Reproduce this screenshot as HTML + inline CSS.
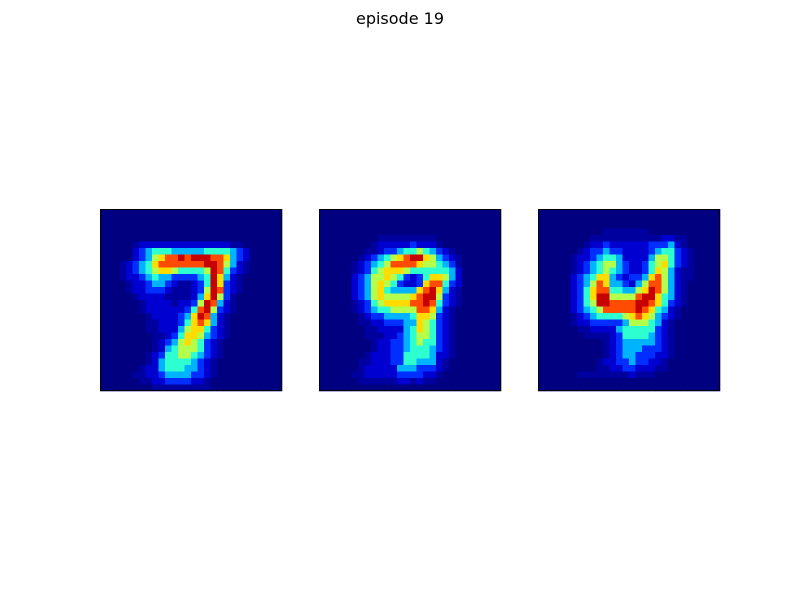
<!DOCTYPE html>
<html><head><meta charset="utf-8">
<style>
html,body{margin:0;padding:0;background:#fff;}
#wrap{position:relative;width:800px;height:600px;}
#title{position:absolute;left:0;width:800px;top:9px;text-align:center;font-family:"DejaVu Sans","Liberation Sans",sans-serif;font-size:16px;color:#000;}
</style></head>
<body>
<div id="wrap">
<div id="title">episode 19</div>
<svg id="svg" width="800" height="600" style="position:absolute;left:0;top:0"></svg>
</div>
<script>
const img7 = [
"0000000000000000000000000000","0000000000000000000000000000","0000000000000000000000000000","0000000000000000000000000000","0000000000000000000000000000",
"0000012222222222222211000000",
"0000023455544444555543200000",
"0000023467889899988743200000",
"0001234578888888998642100000",
"0001234567765555698532100000",
"0001223454433334597421000000",
"0000122344321123597321000000",
"0000122333211123698321000000",
"0000012222111124796310000000",
"0000001222212236984210000000",
"0000001222222358963210000000",
"0000000122223479842100000000",
"0000000112223578742100000000",
"0000000112224677532100000000",
"0000000011235776432100000000",
"0000000012346765321000000000",
"0000000012456665321000000000",
"0000000123556654321000000000",
"0000000124555543210000000000",
"0000001224555443210000000000",
"0000011223444433210000000000",
"0000001122333322100000000000",
"0000000011111111100000000000"];
const img9 = [
"0000000000000000000000000000","0000000000000000000000000000","0000000000000000000000000000","0000000000000000000000000000",
"0000000001111111110000000000",
"0000000012222232221000000000",
"0000000112334556543210000000",
"0000001234567899764321000000",
"0000012345688887665431000000",
"0000012356777655555542000000",
"0000023466765323577642000000",
"0000023467653223788532000000",
"0000023467544447897421000000",
"0000023467666678996321000000",
"0000012356777788985321000000",
"0000012345566668874210000000",
"0000001233444457763210000000",
"0000001122333447653210000000",
"0000000112222457653210000000",
"0000000111223456653210000000",
"0000000012233456553210000000",
"0000000012233455543210000000",
"0000000122233555542210000000",
"0000001122233554442100000000",
"0000001222224443332100000000",
"0000011222223333221000000000",
"0000001111112212110000000000",
"0000000000000000000000000000"];
const img4 = [
"0000000000000000000000000000","0000000000000000000000000000","0000000000000000000000000000",
"0000000000111111100000000000",
"0000000011111111111221100000",
"0000000122322222233342100000",
"0000001233433222234553210000",
"0000012234554222246653210000",
"0000012345664322356753210000",
"0000012345654322357642110000",
"0000023457743233478642110000",
"0000023468744324688642100000",
"0000023578855446798642100000",
"0000023579966668997542100000",
"0000023569988889987532100000",
"0000023456888889875421000000",
"0000012345555678764321000000",
"0000012233333466654210000000",
"0000001122224555553210000000",
"0000000111123555543210000000",
"0000000000123444443210000000",
"0000000000123444333210000000",
"0000000000123443332210000000",
"0000000001223343322100000000",
"0000000001122332221100000000",
"0000001111111121110000000000",
"0000000000000000000000000000","0000000000000000000000000000"];
const levels = [0,0.03,0.08,0.17,0.3,0.42,0.55,0.66,0.8,0.93];
const panelX = [100,319,538];
const panelY = 209, panelW = 182;

function jet(v){
  const c=x=>Math.max(0,Math.min(1,x));
  const r=c(1.5-Math.abs(4*v-3)), g=c(1.5-Math.abs(4*v-2)), b=c(1.5-Math.abs(4*v-1));
  return `rgb(${Math.round(r*255)},${Math.round(g*255)},${Math.round(b*255)})`;
}
const svg=document.getElementById('svg');
const NS='http://www.w3.org/2000/svg';
const imgs=[img7,img9,img4];
const names=['digit-7-panel','digit-9-panel','digit-4-panel'];
imgs.forEach((img,k)=>{
  const g=document.createElementNS(NS,'g');
  
  
  const n=img.length, cs=panelW/n;
  const x0=panelX[k];
  img.forEach((row,r)=>{
    for(let c=0;c<row.length;c++){
      const v=levels[+row[c]];
      const rect=document.createElementNS(NS,'rect');
      rect.setAttribute('x',x0+c*cs);
      rect.setAttribute('y',panelY+r*cs);
      rect.setAttribute('width',cs+0.3);
      rect.setAttribute('height',cs+0.3);
      rect.setAttribute('fill',jet(v));
      
      
      g.appendChild(rect);
    }
  });
  const frame=document.createElementNS(NS,'rect');
  frame.setAttribute('x',x0+0.5);frame.setAttribute('y',panelY+0.5);
  frame.setAttribute('width',panelW-1);frame.setAttribute('height',panelW-1);
  frame.setAttribute('fill','none');frame.setAttribute('stroke','#000');frame.setAttribute('stroke-width','1');
  
  
  g.appendChild(frame);
  svg.appendChild(g);
});
</script>
</body></html>
